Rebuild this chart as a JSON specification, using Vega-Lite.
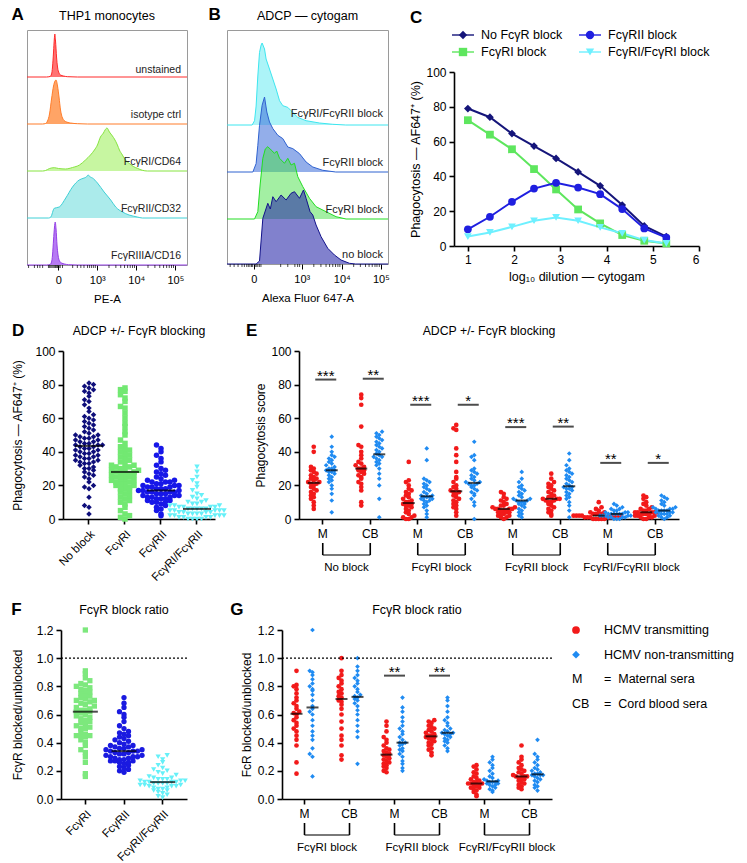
{
"$schema":"https://vega.github.io/schema/vega-lite/v6.json",
"padding":{"left":10,"top":6,"right":4,"bottom":4},
"datasets":{
"hA":[
{"s":"u","t":-0.8,"h":0},{"s":"u","t":-0.3,"h":0},{"s":"u","t":-0.21,"h":0.5},{"s":"u","t":-0.17,"h":3},{"s":"u","t":-0.146,"h":10},{"s":"u","t":-0.12,"h":25},{"s":"u","t":-0.1,"h":38},{"s":"u","t":-0.087,"h":43},{"s":"u","t":-0.069,"h":36},{"s":"u","t":-0.043,"h":20},{"s":"u","t":-0.018,"h":10},{"s":"u","t":0.02,"h":4},{"s":"u","t":0.059,"h":2},{"s":"u","t":0.136,"h":1},{"s":"u","t":0.238,"h":0.3},{"s":"u","t":0.494,"h":0},{"s":"u","t":3.3,"h":0},
{"s":"i","t":-0.8,"h":0},{"s":"i","t":-0.4,"h":0},{"s":"i","t":-0.325,"h":0.5},{"s":"i","t":-0.274,"h":3},{"s":"i","t":-0.223,"h":10},{"s":"i","t":-0.171,"h":25},{"s":"i","t":-0.12,"h":38},{"s":"i","t":-0.082,"h":43},{"s":"i","t":-0.056,"h":44},{"s":"i","t":-0.018,"h":38},{"s":"i","t":0.02,"h":27},{"s":"i","t":0.059,"h":14},{"s":"i","t":0.11,"h":6},{"s":"i","t":0.187,"h":2.5},{"s":"i","t":0.315,"h":1},{"s":"i","t":0.494,"h":0.3},{"s":"i","t":0.749,"h":0},{"s":"i","t":3.3,"h":0},
{"s":"c64","t":-0.8,"h":0},{"s":"c64","t":-0.4,"h":0},{"s":"c64","t":-0.325,"h":0.5},{"s":"c64","t":-0.223,"h":2.5},{"s":"c64","t":-0.102,"h":3.3},{"s":"c64","t":0.008,"h":2.5},{"s":"c64","t":0.187,"h":2},{"s":"c64","t":0.366,"h":3.5},{"s":"c64","t":0.545,"h":6},{"s":"c64","t":0.698,"h":11},{"s":"c64","t":0.826,"h":16},{"s":"c64","t":0.928,"h":21},{"s":"c64","t":1.005,"h":26},{"s":"c64","t":1.082,"h":34},{"s":"c64","t":1.159,"h":38},{"s":"c64","t":1.2,"h":41},{"s":"c64","t":1.25,"h":43},{"s":"c64","t":1.312,"h":39},{"s":"c64","t":1.389,"h":35},{"s":"c64","t":1.44,"h":32},{"s":"c64","t":1.517,"h":26},{"s":"c64","t":1.568,"h":21},{"s":"c64","t":1.645,"h":16},{"s":"c64","t":1.721,"h":11},{"s":"c64","t":1.824,"h":7.5},{"s":"c64","t":1.926,"h":4.5},{"s":"c64","t":2.028,"h":2.7},{"s":"c64","t":2.156,"h":0.7},{"s":"c64","t":2.284,"h":0},{"s":"c64","t":3.3,"h":0},
{"s":"c32","t":-0.8,"h":0},{"s":"c32","t":-0.248,"h":0},{"s":"c32","t":-0.19,"h":1},{"s":"c32","t":-0.102,"h":9.7},{"s":"c32","t":0.026,"h":11},{"s":"c32","t":0.194,"h":20},{"s":"c32","t":0.366,"h":31},{"s":"c32","t":0.537,"h":38},{"s":"c32","t":0.665,"h":40},{"s":"c32","t":0.72,"h":41},{"s":"c32","t":0.767,"h":43},{"s":"c32","t":0.82,"h":41},{"s":"c32","t":0.877,"h":40},{"s":"c32","t":1.005,"h":35},{"s":"c32","t":1.176,"h":26},{"s":"c32","t":1.345,"h":18},{"s":"c32","t":1.473,"h":11},{"s":"c32","t":1.645,"h":6},{"s":"c32","t":1.816,"h":3},{"s":"c32","t":2.028,"h":1},{"s":"c32","t":2.156,"h":0},{"s":"c32","t":3.3,"h":0},
{"s":"c16","t":-0.8,"h":0},{"s":"c16","t":-0.3,"h":0},{"s":"c16","t":-0.21,"h":0.5},{"s":"c16","t":-0.171,"h":3},{"s":"c16","t":-0.146,"h":10},{"s":"c16","t":-0.12,"h":25},{"s":"c16","t":-0.095,"h":38},{"s":"c16","t":-0.077,"h":43},{"s":"c16","t":-0.056,"h":36},{"s":"c16","t":-0.031,"h":20},{"s":"c16","t":-0.005,"h":10},{"s":"c16","t":0.033,"h":4},{"s":"c16","t":0.084,"h":2},{"s":"c16","t":0.161,"h":1},{"s":"c16","t":0.263,"h":0.3},{"s":"c16","t":0.494,"h":0},{"s":"c16","t":3.3,"h":0}
],
"hB":[
{"s":"r12","t":-0.68,"h":0},{"s":"r12","t":-0.043,"h":0},{"s":"r12","t":0.018,"h":4.3},{"s":"r12","t":0.058,"h":19},{"s":"r12","t":0.101,"h":49},{"s":"r12","t":0.144,"h":72.6},{"s":"r12","t":0.185,"h":80},{"s":"r12","t":0.21,"h":82},{"s":"r12","t":0.271,"h":76},{"s":"r12","t":0.311,"h":66},{"s":"r12","t":0.397,"h":56},{"s":"r12","t":0.481,"h":46},{"s":"r12","t":0.565,"h":36},{"s":"r12","t":0.651,"h":24.3},{"s":"r12","t":0.734,"h":19.3},{"s":"r12","t":0.861,"h":17.6},{"s":"r12","t":0.987,"h":12.6},{"s":"r12","t":1.114,"h":7.6},{"s":"r12","t":1.324,"h":4.3},{"s":"r12","t":1.663,"h":2},{"s":"r12","t":2.0,"h":0.7},{"s":"r12","t":2.329,"h":0},{"s":"r12","t":3.4,"h":0},
{"s":"r2","t":-0.68,"h":0},{"s":"r2","t":-0.025,"h":0},{"s":"r2","t":0.058,"h":8.4},{"s":"r2","t":0.101,"h":26.7},{"s":"r2","t":0.144,"h":46.7},{"s":"r2","t":0.21,"h":66.7},{"s":"r2","t":0.271,"h":75},{"s":"r2","t":0.329,"h":60},{"s":"r2","t":0.397,"h":50},{"s":"r2","t":0.481,"h":43.4},{"s":"r2","t":0.608,"h":36.7},{"s":"r2","t":0.734,"h":33.4},{"s":"r2","t":0.861,"h":25},{"s":"r2","t":0.987,"h":23.4},{"s":"r2","t":1.157,"h":18.4},{"s":"r2","t":1.324,"h":10},{"s":"r2","t":1.494,"h":5},{"s":"r2","t":1.747,"h":1.7},{"s":"r2","t":2.076,"h":0},{"s":"r2","t":3.4,"h":0},
{"s":"r1","t":-0.68,"h":0},{"s":"r1","t":0.018,"h":0},{"s":"r1","t":0.101,"h":7.3},{"s":"r1","t":0.159,"h":34},{"s":"r1","t":0.228,"h":60.7},{"s":"r1","t":0.29,"h":70},{"s":"r1","t":0.354,"h":72.3},{"s":"r1","t":0.438,"h":69},{"s":"r1","t":0.524,"h":65.7},{"s":"r1","t":0.58,"h":68},{"s":"r1","t":0.651,"h":60.7},{"s":"r1","t":0.777,"h":55.7},{"s":"r1","t":0.861,"h":60.7},{"s":"r1","t":0.944,"h":54},{"s":"r1","t":1.03,"h":55.7},{"s":"r1","t":1.114,"h":42.3},{"s":"r1","t":1.241,"h":32.3},{"s":"r1","t":1.41,"h":20.7},{"s":"r1","t":1.577,"h":12.3},{"s":"r1","t":1.83,"h":7.3},{"s":"r1","t":2.084,"h":2.3},{"s":"r1","t":2.337,"h":0},{"s":"r1","t":3.4,"h":0},
{"s":"n","t":-0.68,"h":0},{"s":"n","t":0.058,"h":0},{"s":"n","t":0.144,"h":3},{"s":"n","t":0.228,"h":45.7},{"s":"n","t":0.354,"h":60.7},{"s":"n","t":0.418,"h":55},{"s":"n","t":0.481,"h":67.3},{"s":"n","t":0.565,"h":62.3},{"s":"n","t":0.691,"h":69},{"s":"n","t":0.818,"h":64},{"s":"n","t":0.944,"h":70.7},{"s":"n","t":1.03,"h":72.3},{"s":"n","t":1.157,"h":65.7},{"s":"n","t":1.258,"h":74},{"s":"n","t":1.324,"h":65.7},{"s":"n","t":1.425,"h":52.3},{"s":"n","t":1.494,"h":49},{"s":"n","t":1.577,"h":39},{"s":"n","t":1.704,"h":27.3},{"s":"n","t":1.873,"h":15.7},{"s":"n","t":2.043,"h":9},{"s":"n","t":2.21,"h":4},{"s":"n","t":2.423,"h":0.7},{"s":"n","t":2.582,"h":0},{"s":"n","t":3.4,"h":0}
],
"tA":[{"t":-0.76},{"t":-0.61},{"t":-0.53},{"t":-0.47},{"t":-0.4},{"t":-0.25},{"t":-0.22},{"t":-0.19},{"t":-0.16},{"t":-0.13},{"t":-0.1},{"t":-0.07},{"t":-0.04},{"t":-0.02},{"t":0.02},{"t":0.05},{"t":0.11},{"t":0.37},{"t":0.49},{"t":0.58},{"t":0.66},{"t":0.75},{"t":0.8},{"t":0.85},{"t":0.9},{"t":0.95},{"t":1.301},{"t":1.477},{"t":1.602},{"t":1.699},{"t":1.778},{"t":1.845},{"t":1.903},{"t":1.954},{"t":2.301},{"t":2.477},{"t":2.602},{"t":2.699},{"t":2.778},{"t":2.845},{"t":2.903},{"t":2.954}],
"tB":[{"t":-0.6},{"t":-0.5},{"t":-0.4},{"t":-0.3},{"t":-0.24},{"t":-0.18},{"t":-0.14},{"t":-0.1},{"t":-0.06},{"t":-0.03},{"t":0.03},{"t":0.06},{"t":0.1},{"t":0.14},{"t":0.18},{"t":0.68},{"t":0.86},{"t":1.04},{"t":1.11},{"t":1.16},{"t":1.52},{"t":1.7},{"t":1.83},{"t":1.92},{"t":2.0},{"t":2.07},{"t":2.13},{"t":2.18},{"t":2.53},{"t":2.7},{"t":2.83},{"t":2.92},{"t":3.0},{"t":3.07},{"t":3.12},{"t":3.18}],
"C":[
{"s":"No FcγR block","x":1,"y":79},{"s":"No FcγR block","x":1.477,"y":74},{"s":"No FcγR block","x":1.954,"y":64.6},{"s":"No FcγR block","x":2.431,"y":57.4},{"s":"No FcγR block","x":2.908,"y":50.3},{"s":"No FcγR block","x":3.385,"y":42.6},{"s":"No FcγR block","x":3.862,"y":34.6},{"s":"No FcγR block","x":4.339,"y":23.5},{"s":"No FcγR block","x":4.816,"y":11.5},{"s":"No FcγR block","x":5.293,"y":5.4},
{"s":"FcγRI block","x":1,"y":72.3},{"s":"FcγRI block","x":1.477,"y":64},{"s":"FcγRI block","x":1.954,"y":55.6},{"s":"FcγRI block","x":2.431,"y":44.2},{"s":"FcγRI block","x":2.908,"y":32.5},{"s":"FcγRI block","x":3.385,"y":21},{"s":"FcγRI block","x":3.862,"y":13},{"s":"FcγRI block","x":4.339,"y":6.3},{"s":"FcγRI block","x":4.816,"y":3},{"s":"FcγRI block","x":5.293,"y":1.5},
{"s":"FcγRII block","x":1,"y":9.6},{"s":"FcγRII block","x":1.477,"y":16.8},{"s":"FcγRII block","x":1.954,"y":25.4},{"s":"FcγRII block","x":2.431,"y":33},{"s":"FcγRII block","x":2.908,"y":36.3},{"s":"FcγRII block","x":3.385,"y":33.6},{"s":"FcγRII block","x":3.862,"y":29.8},{"s":"FcγRII block","x":4.339,"y":21.2},{"s":"FcγRII block","x":4.816,"y":10.1},{"s":"FcγRII block","x":5.293,"y":4.8},
{"s":"FcγRI/FcγRI block","x":1,"y":5.4},{"s":"FcγRI/FcγRI block","x":1.477,"y":7.8},{"s":"FcγRI/FcγRI block","x":1.954,"y":11},{"s":"FcγRI/FcγRI block","x":2.431,"y":14.5},{"s":"FcγRI/FcγRI block","x":2.908,"y":16.4},{"s":"FcγRI/FcγRI block","x":3.385,"y":14.5},{"s":"FcγRI/FcγRI block","x":3.862,"y":10.7},{"s":"FcγRI/FcγRI block","x":4.339,"y":7.3},{"s":"FcγRI/FcγRI block","x":4.816,"y":3.4},{"s":"FcγRI/FcγRI block","x":5.293,"y":1.5}
],
"Cleg":[{"s":"No FcγR block","c":"a","r":"r1"},{"s":"FcγRII block","c":"b","r":"r1"},{"s":"FcγRI block","c":"a","r":"r2"},{"s":"FcγRI/FcγRI block","c":"b","r":"r2"}],
"D":[
{"g":"a","v":3},{"g":"a","v":7},{"g":"a","v":8},{"g":"a","v":13},{"g":"a","v":18},{"g":"a","v":19},{"g":"a","v":20},{"g":"a","v":22},{"g":"a","v":24},{"g":"a","v":25},{"g":"a","v":26},{"g":"a","v":27},{"g":"a","v":28},{"g":"a","v":29},{"g":"a","v":30},{"g":"a","v":30},{"g":"a","v":31},{"g":"a","v":32},{"g":"a","v":33},{"g":"a","v":33},{"g":"a","v":34},{"g":"a","v":34},{"g":"a","v":35},{"g":"a","v":35},{"g":"a","v":36},{"g":"a","v":36},{"g":"a","v":37},{"g":"a","v":37},{"g":"a","v":38},{"g":"a","v":38},{"g":"a","v":39},{"g":"a","v":39},{"g":"a","v":40},{"g":"a","v":40},{"g":"a","v":41},{"g":"a","v":41},{"g":"a","v":42},{"g":"a","v":42},{"g":"a","v":43},{"g":"a","v":43},{"g":"a","v":44},{"g":"a","v":44},{"g":"a","v":44},{"g":"a","v":45},{"g":"a","v":45},{"g":"a","v":46},{"g":"a","v":46},{"g":"a","v":47},{"g":"a","v":47},{"g":"a","v":48},{"g":"a","v":48},{"g":"a","v":49},{"g":"a","v":49},{"g":"a","v":50},{"g":"a","v":50},{"g":"a","v":51},{"g":"a","v":52},{"g":"a","v":53},{"g":"a","v":54},{"g":"a","v":55},{"g":"a","v":56},{"g":"a","v":57},{"g":"a","v":58},{"g":"a","v":59},{"g":"a","v":60},{"g":"a","v":61},{"g":"a","v":62},{"g":"a","v":64},{"g":"a","v":66},{"g":"a","v":68},{"g":"a","v":70},{"g":"a","v":71},{"g":"a","v":73},{"g":"a","v":75},{"g":"a","v":76},{"g":"a","v":77},{"g":"a","v":78},{"g":"a","v":79},{"g":"a","v":80},{"g":"a","v":81},
{"g":"b","v":0},{"g":"b","v":1},{"g":"b","v":2},{"g":"b","v":3},{"g":"b","v":5},{"g":"b","v":7},{"g":"b","v":9},{"g":"b","v":10},{"g":"b","v":11},{"g":"b","v":12},{"g":"b","v":13},{"g":"b","v":14},{"g":"b","v":15},{"g":"b","v":16},{"g":"b","v":17},{"g":"b","v":18},{"g":"b","v":18},{"g":"b","v":19},{"g":"b","v":20},{"g":"b","v":20},{"g":"b","v":21},{"g":"b","v":21},{"g":"b","v":22},{"g":"b","v":22},{"g":"b","v":23},{"g":"b","v":23},{"g":"b","v":24},{"g":"b","v":24},{"g":"b","v":25},{"g":"b","v":25},{"g":"b","v":26},{"g":"b","v":26},{"g":"b","v":27},{"g":"b","v":27},{"g":"b","v":27},{"g":"b","v":28},{"g":"b","v":28},{"g":"b","v":29},{"g":"b","v":29},{"g":"b","v":30},{"g":"b","v":30},{"g":"b","v":31},{"g":"b","v":31},{"g":"b","v":32},{"g":"b","v":32},{"g":"b","v":33},{"g":"b","v":34},{"g":"b","v":35},{"g":"b","v":36},{"g":"b","v":37},{"g":"b","v":38},{"g":"b","v":39},{"g":"b","v":40},{"g":"b","v":41},{"g":"b","v":42},{"g":"b","v":43},{"g":"b","v":45},{"g":"b","v":47},{"g":"b","v":50},{"g":"b","v":52},{"g":"b","v":55},{"g":"b","v":57},{"g":"b","v":60},{"g":"b","v":63},{"g":"b","v":66},{"g":"b","v":67},{"g":"b","v":70},{"g":"b","v":72},{"g":"b","v":74},{"g":"b","v":76},{"g":"b","v":77},{"g":"b","v":78},
{"g":"c","v":2},{"g":"c","v":3},{"g":"c","v":5},{"g":"c","v":6},{"g":"c","v":7},{"g":"c","v":8},{"g":"c","v":9},{"g":"c","v":10},{"g":"c","v":10},{"g":"c","v":10},{"g":"c","v":11},{"g":"c","v":11},{"g":"c","v":12},{"g":"c","v":12},{"g":"c","v":12},{"g":"c","v":13},{"g":"c","v":13},{"g":"c","v":13},{"g":"c","v":14},{"g":"c","v":14},{"g":"c","v":14},{"g":"c","v":15},{"g":"c","v":15},{"g":"c","v":15},{"g":"c","v":16},{"g":"c","v":16},{"g":"c","v":16},{"g":"c","v":16},{"g":"c","v":17},{"g":"c","v":17},{"g":"c","v":17},{"g":"c","v":18},{"g":"c","v":18},{"g":"c","v":18},{"g":"c","v":19},{"g":"c","v":19},{"g":"c","v":19},{"g":"c","v":20},{"g":"c","v":20},{"g":"c","v":20},{"g":"c","v":21},{"g":"c","v":21},{"g":"c","v":22},{"g":"c","v":22},{"g":"c","v":22},{"g":"c","v":23},{"g":"c","v":23},{"g":"c","v":24},{"g":"c","v":25},{"g":"c","v":26},{"g":"c","v":27},{"g":"c","v":28},{"g":"c","v":29},{"g":"c","v":30},{"g":"c","v":32},{"g":"c","v":34},{"g":"c","v":36},{"g":"c","v":38},{"g":"c","v":40},{"g":"c","v":42},{"g":"c","v":44},
{"g":"d","v":0},{"g":"d","v":0},{"g":"d","v":0},{"g":"d","v":0},{"g":"d","v":1},{"g":"d","v":1},{"g":"d","v":1},{"g":"d","v":1},{"g":"d","v":2},{"g":"d","v":2},{"g":"d","v":2},{"g":"d","v":2},{"g":"d","v":2},{"g":"d","v":3},{"g":"d","v":3},{"g":"d","v":3},{"g":"d","v":3},{"g":"d","v":4},{"g":"d","v":4},{"g":"d","v":4},{"g":"d","v":4},{"g":"d","v":5},{"g":"d","v":5},{"g":"d","v":5},{"g":"d","v":5},{"g":"d","v":5},{"g":"d","v":6},{"g":"d","v":6},{"g":"d","v":6},{"g":"d","v":6},{"g":"d","v":6},{"g":"d","v":7},{"g":"d","v":7},{"g":"d","v":7},{"g":"d","v":7},{"g":"d","v":8},{"g":"d","v":8},{"g":"d","v":8},{"g":"d","v":9},{"g":"d","v":9},{"g":"d","v":10},{"g":"d","v":10},{"g":"d","v":11},{"g":"d","v":12},{"g":"d","v":13},{"g":"d","v":14},{"g":"d","v":15},{"g":"d","v":17},{"g":"d","v":19},{"g":"d","v":21},{"g":"d","v":23},{"g":"d","v":25},{"g":"d","v":28},{"g":"d","v":31}
],
"E":[
{"k":"1M","c":"T","v":6},{"k":"1M","c":"T","v":8},{"k":"1M","c":"T","v":10},{"k":"1M","c":"T","v":12},{"k":"1M","c":"T","v":13},{"k":"1M","c":"T","v":14},{"k":"1M","c":"T","v":15},{"k":"1M","c":"T","v":16},{"k":"1M","c":"T","v":17},{"k":"1M","c":"T","v":18},{"k":"1M","c":"T","v":19},{"k":"1M","c":"T","v":20},{"k":"1M","c":"T","v":21},{"k":"1M","c":"T","v":21},{"k":"1M","c":"T","v":22},{"k":"1M","c":"T","v":22},{"k":"1M","c":"T","v":23},{"k":"1M","c":"T","v":24},{"k":"1M","c":"T","v":24},{"k":"1M","c":"T","v":25},{"k":"1M","c":"T","v":26},{"k":"1M","c":"T","v":27},{"k":"1M","c":"T","v":28},{"k":"1M","c":"T","v":29},{"k":"1M","c":"T","v":30},{"k":"1M","c":"T","v":31},{"k":"1M","c":"T","v":40},{"k":"1M","c":"T","v":43},
{"k":"1M","c":"N","v":4},{"k":"1M","c":"N","v":11},{"k":"1M","c":"N","v":15},{"k":"1M","c":"N","v":18},{"k":"1M","c":"N","v":20},{"k":"1M","c":"N","v":22},{"k":"1M","c":"N","v":23},{"k":"1M","c":"N","v":24},{"k":"1M","c":"N","v":25},{"k":"1M","c":"N","v":26},{"k":"1M","c":"N","v":27},{"k":"1M","c":"N","v":28},{"k":"1M","c":"N","v":28},{"k":"1M","c":"N","v":29},{"k":"1M","c":"N","v":29},{"k":"1M","c":"N","v":30},{"k":"1M","c":"N","v":30},{"k":"1M","c":"N","v":31},{"k":"1M","c":"N","v":32},{"k":"1M","c":"N","v":33},{"k":"1M","c":"N","v":34},{"k":"1M","c":"N","v":35},{"k":"1M","c":"N","v":36},{"k":"1M","c":"N","v":37},{"k":"1M","c":"N","v":38},{"k":"1M","c":"N","v":40},{"k":"1M","c":"N","v":43},{"k":"1M","c":"N","v":49},
{"k":"1CB","c":"T","v":8},{"k":"1CB","c":"T","v":10},{"k":"1CB","c":"T","v":17},{"k":"1CB","c":"T","v":19},{"k":"1CB","c":"T","v":21},{"k":"1CB","c":"T","v":22},{"k":"1CB","c":"T","v":24},{"k":"1CB","c":"T","v":25},{"k":"1CB","c":"T","v":26},{"k":"1CB","c":"T","v":27},{"k":"1CB","c":"T","v":28},{"k":"1CB","c":"T","v":29},{"k":"1CB","c":"T","v":29},{"k":"1CB","c":"T","v":30},{"k":"1CB","c":"T","v":30},{"k":"1CB","c":"T","v":31},{"k":"1CB","c":"T","v":32},{"k":"1CB","c":"T","v":33},{"k":"1CB","c":"T","v":34},{"k":"1CB","c":"T","v":36},{"k":"1CB","c":"T","v":38},{"k":"1CB","c":"T","v":40},{"k":"1CB","c":"T","v":43},{"k":"1CB","c":"T","v":44},{"k":"1CB","c":"T","v":55},{"k":"1CB","c":"T","v":68},{"k":"1CB","c":"T","v":72},{"k":"1CB","c":"T","v":74},
{"k":"1CB","c":"N","v":1},{"k":"1CB","c":"N","v":12},{"k":"1CB","c":"N","v":20},{"k":"1CB","c":"N","v":24},{"k":"1CB","c":"N","v":27},{"k":"1CB","c":"N","v":30},{"k":"1CB","c":"N","v":32},{"k":"1CB","c":"N","v":33},{"k":"1CB","c":"N","v":34},{"k":"1CB","c":"N","v":35},{"k":"1CB","c":"N","v":36},{"k":"1CB","c":"N","v":37},{"k":"1CB","c":"N","v":37},{"k":"1CB","c":"N","v":38},{"k":"1CB","c":"N","v":39},{"k":"1CB","c":"N","v":40},{"k":"1CB","c":"N","v":41},{"k":"1CB","c":"N","v":42},{"k":"1CB","c":"N","v":43},{"k":"1CB","c":"N","v":44},{"k":"1CB","c":"N","v":45},{"k":"1CB","c":"N","v":46},{"k":"1CB","c":"N","v":47},{"k":"1CB","c":"N","v":48},{"k":"1CB","c":"N","v":49},{"k":"1CB","c":"N","v":50},{"k":"1CB","c":"N","v":51},{"k":"1CB","c":"N","v":52},
{"k":"2M","c":"T","v":0},{"k":"2M","c":"T","v":0},{"k":"2M","c":"T","v":1},{"k":"2M","c":"T","v":1},{"k":"2M","c":"T","v":2},{"k":"2M","c":"T","v":3},{"k":"2M","c":"T","v":4},{"k":"2M","c":"T","v":5},{"k":"2M","c":"T","v":6},{"k":"2M","c":"T","v":7},{"k":"2M","c":"T","v":8},{"k":"2M","c":"T","v":8},{"k":"2M","c":"T","v":9},{"k":"2M","c":"T","v":9},{"k":"2M","c":"T","v":10},{"k":"2M","c":"T","v":10},{"k":"2M","c":"T","v":11},{"k":"2M","c":"T","v":12},{"k":"2M","c":"T","v":13},{"k":"2M","c":"T","v":14},{"k":"2M","c":"T","v":15},{"k":"2M","c":"T","v":16},{"k":"2M","c":"T","v":17},{"k":"2M","c":"T","v":18},{"k":"2M","c":"T","v":20},{"k":"2M","c":"T","v":22},{"k":"2M","c":"T","v":23},{"k":"2M","c":"T","v":34},
{"k":"2M","c":"N","v":1},{"k":"2M","c":"N","v":3},{"k":"2M","c":"N","v":5},{"k":"2M","c":"N","v":7},{"k":"2M","c":"N","v":8},{"k":"2M","c":"N","v":9},{"k":"2M","c":"N","v":10},{"k":"2M","c":"N","v":11},{"k":"2M","c":"N","v":11},{"k":"2M","c":"N","v":12},{"k":"2M","c":"N","v":12},{"k":"2M","c":"N","v":13},{"k":"2M","c":"N","v":13},{"k":"2M","c":"N","v":13},{"k":"2M","c":"N","v":14},{"k":"2M","c":"N","v":14},{"k":"2M","c":"N","v":15},{"k":"2M","c":"N","v":16},{"k":"2M","c":"N","v":17},{"k":"2M","c":"N","v":18},{"k":"2M","c":"N","v":19},{"k":"2M","c":"N","v":20},{"k":"2M","c":"N","v":21},{"k":"2M","c":"N","v":22},{"k":"2M","c":"N","v":23},{"k":"2M","c":"N","v":24},{"k":"2M","c":"N","v":35},{"k":"2M","c":"N","v":42},
{"k":"2CB","c":"T","v":2},{"k":"2CB","c":"T","v":4},{"k":"2CB","c":"T","v":6},{"k":"2CB","c":"T","v":7},{"k":"2CB","c":"T","v":8},{"k":"2CB","c":"T","v":9},{"k":"2CB","c":"T","v":10},{"k":"2CB","c":"T","v":11},{"k":"2CB","c":"T","v":12},{"k":"2CB","c":"T","v":13},{"k":"2CB","c":"T","v":14},{"k":"2CB","c":"T","v":15},{"k":"2CB","c":"T","v":16},{"k":"2CB","c":"T","v":16},{"k":"2CB","c":"T","v":17},{"k":"2CB","c":"T","v":18},{"k":"2CB","c":"T","v":19},{"k":"2CB","c":"T","v":20},{"k":"2CB","c":"T","v":22},{"k":"2CB","c":"T","v":24},{"k":"2CB","c":"T","v":25},{"k":"2CB","c":"T","v":28},{"k":"2CB","c":"T","v":34},{"k":"2CB","c":"T","v":38},{"k":"2CB","c":"T","v":42},{"k":"2CB","c":"T","v":53},{"k":"2CB","c":"T","v":54},{"k":"2CB","c":"T","v":56},
{"k":"2CB","c":"N","v":0},{"k":"2CB","c":"N","v":8},{"k":"2CB","c":"N","v":10},{"k":"2CB","c":"N","v":12},{"k":"2CB","c":"N","v":14},{"k":"2CB","c":"N","v":15},{"k":"2CB","c":"N","v":16},{"k":"2CB","c":"N","v":17},{"k":"2CB","c":"N","v":18},{"k":"2CB","c":"N","v":19},{"k":"2CB","c":"N","v":20},{"k":"2CB","c":"N","v":20},{"k":"2CB","c":"N","v":21},{"k":"2CB","c":"N","v":21},{"k":"2CB","c":"N","v":22},{"k":"2CB","c":"N","v":22},{"k":"2CB","c":"N","v":23},{"k":"2CB","c":"N","v":24},{"k":"2CB","c":"N","v":25},{"k":"2CB","c":"N","v":26},{"k":"2CB","c":"N","v":27},{"k":"2CB","c":"N","v":28},{"k":"2CB","c":"N","v":29},{"k":"2CB","c":"N","v":30},{"k":"2CB","c":"N","v":35},{"k":"2CB","c":"N","v":37},{"k":"2CB","c":"N","v":38},{"k":"2CB","c":"N","v":46},
{"k":"3M","c":"T","v":0},{"k":"3M","c":"T","v":1},{"k":"3M","c":"T","v":1},{"k":"3M","c":"T","v":2},{"k":"3M","c":"T","v":2},{"k":"3M","c":"T","v":3},{"k":"3M","c":"T","v":3},{"k":"3M","c":"T","v":4},{"k":"3M","c":"T","v":4},{"k":"3M","c":"T","v":4},{"k":"3M","c":"T","v":5},{"k":"3M","c":"T","v":5},{"k":"3M","c":"T","v":5},{"k":"3M","c":"T","v":6},{"k":"3M","c":"T","v":6},{"k":"3M","c":"T","v":6},{"k":"3M","c":"T","v":6},{"k":"3M","c":"T","v":7},{"k":"3M","c":"T","v":7},{"k":"3M","c":"T","v":8},{"k":"3M","c":"T","v":8},{"k":"3M","c":"T","v":9},{"k":"3M","c":"T","v":10},{"k":"3M","c":"T","v":11},{"k":"3M","c":"T","v":12},{"k":"3M","c":"T","v":13},{"k":"3M","c":"T","v":15},{"k":"3M","c":"T","v":16},
{"k":"3M","c":"N","v":1},{"k":"3M","c":"N","v":2},{"k":"3M","c":"N","v":3},{"k":"3M","c":"N","v":4},{"k":"3M","c":"N","v":5},{"k":"3M","c":"N","v":6},{"k":"3M","c":"N","v":7},{"k":"3M","c":"N","v":8},{"k":"3M","c":"N","v":9},{"k":"3M","c":"N","v":9},{"k":"3M","c":"N","v":10},{"k":"3M","c":"N","v":10},{"k":"3M","c":"N","v":10},{"k":"3M","c":"N","v":11},{"k":"3M","c":"N","v":11},{"k":"3M","c":"N","v":12},{"k":"3M","c":"N","v":12},{"k":"3M","c":"N","v":13},{"k":"3M","c":"N","v":14},{"k":"3M","c":"N","v":15},{"k":"3M","c":"N","v":16},{"k":"3M","c":"N","v":17},{"k":"3M","c":"N","v":18},{"k":"3M","c":"N","v":19},{"k":"3M","c":"N","v":20},{"k":"3M","c":"N","v":22},{"k":"3M","c":"N","v":24},{"k":"3M","c":"N","v":28},
{"k":"3CB","c":"T","v":2},{"k":"3CB","c":"T","v":3},{"k":"3CB","c":"T","v":4},{"k":"3CB","c":"T","v":5},{"k":"3CB","c":"T","v":6},{"k":"3CB","c":"T","v":7},{"k":"3CB","c":"T","v":8},{"k":"3CB","c":"T","v":9},{"k":"3CB","c":"T","v":10},{"k":"3CB","c":"T","v":10},{"k":"3CB","c":"T","v":11},{"k":"3CB","c":"T","v":11},{"k":"3CB","c":"T","v":12},{"k":"3CB","c":"T","v":12},{"k":"3CB","c":"T","v":12},{"k":"3CB","c":"T","v":13},{"k":"3CB","c":"T","v":13},{"k":"3CB","c":"T","v":14},{"k":"3CB","c":"T","v":15},{"k":"3CB","c":"T","v":16},{"k":"3CB","c":"T","v":17},{"k":"3CB","c":"T","v":18},{"k":"3CB","c":"T","v":19},{"k":"3CB","c":"T","v":20},{"k":"3CB","c":"T","v":21},{"k":"3CB","c":"T","v":22},{"k":"3CB","c":"T","v":24},{"k":"3CB","c":"T","v":27},
{"k":"3CB","c":"N","v":1},{"k":"3CB","c":"N","v":5},{"k":"3CB","c":"N","v":8},{"k":"3CB","c":"N","v":10},{"k":"3CB","c":"N","v":12},{"k":"3CB","c":"N","v":13},{"k":"3CB","c":"N","v":14},{"k":"3CB","c":"N","v":15},{"k":"3CB","c":"N","v":16},{"k":"3CB","c":"N","v":17},{"k":"3CB","c":"N","v":18},{"k":"3CB","c":"N","v":18},{"k":"3CB","c":"N","v":19},{"k":"3CB","c":"N","v":19},{"k":"3CB","c":"N","v":20},{"k":"3CB","c":"N","v":21},{"k":"3CB","c":"N","v":22},{"k":"3CB","c":"N","v":23},{"k":"3CB","c":"N","v":24},{"k":"3CB","c":"N","v":25},{"k":"3CB","c":"N","v":26},{"k":"3CB","c":"N","v":27},{"k":"3CB","c":"N","v":28},{"k":"3CB","c":"N","v":29},{"k":"3CB","c":"N","v":30},{"k":"3CB","c":"N","v":32},{"k":"3CB","c":"N","v":35},{"k":"3CB","c":"N","v":39},
{"k":"4M","c":"T","v":0},{"k":"4M","c":"T","v":0},{"k":"4M","c":"T","v":0},{"k":"4M","c":"T","v":0},{"k":"4M","c":"T","v":0},{"k":"4M","c":"T","v":1},{"k":"4M","c":"T","v":1},{"k":"4M","c":"T","v":1},{"k":"4M","c":"T","v":1},{"k":"4M","c":"T","v":1},{"k":"4M","c":"T","v":1},{"k":"4M","c":"T","v":2},{"k":"4M","c":"T","v":2},{"k":"4M","c":"T","v":2},{"k":"4M","c":"T","v":2},{"k":"4M","c":"T","v":2},{"k":"4M","c":"T","v":2},{"k":"4M","c":"T","v":2},{"k":"4M","c":"T","v":3},{"k":"4M","c":"T","v":3},{"k":"4M","c":"T","v":3},{"k":"4M","c":"T","v":3},{"k":"4M","c":"T","v":4},{"k":"4M","c":"T","v":4},{"k":"4M","c":"T","v":5},{"k":"4M","c":"T","v":6},{"k":"4M","c":"T","v":7},{"k":"4M","c":"T","v":10},
{"k":"4M","c":"N","v":0},{"k":"4M","c":"N","v":0},{"k":"4M","c":"N","v":0},{"k":"4M","c":"N","v":1},{"k":"4M","c":"N","v":1},{"k":"4M","c":"N","v":1},{"k":"4M","c":"N","v":1},{"k":"4M","c":"N","v":2},{"k":"4M","c":"N","v":2},{"k":"4M","c":"N","v":2},{"k":"4M","c":"N","v":2},{"k":"4M","c":"N","v":2},{"k":"4M","c":"N","v":3},{"k":"4M","c":"N","v":3},{"k":"4M","c":"N","v":3},{"k":"4M","c":"N","v":3},{"k":"4M","c":"N","v":3},{"k":"4M","c":"N","v":3},{"k":"4M","c":"N","v":4},{"k":"4M","c":"N","v":4},{"k":"4M","c":"N","v":4},{"k":"4M","c":"N","v":5},{"k":"4M","c":"N","v":5},{"k":"4M","c":"N","v":6},{"k":"4M","c":"N","v":6},{"k":"4M","c":"N","v":7},{"k":"4M","c":"N","v":8},{"k":"4M","c":"N","v":9},
{"k":"4CB","c":"T","v":0},{"k":"4CB","c":"T","v":0},{"k":"4CB","c":"T","v":1},{"k":"4CB","c":"T","v":1},{"k":"4CB","c":"T","v":1},{"k":"4CB","c":"T","v":2},{"k":"4CB","c":"T","v":2},{"k":"4CB","c":"T","v":2},{"k":"4CB","c":"T","v":3},{"k":"4CB","c":"T","v":3},{"k":"4CB","c":"T","v":3},{"k":"4CB","c":"T","v":3},{"k":"4CB","c":"T","v":4},{"k":"4CB","c":"T","v":4},{"k":"4CB","c":"T","v":4},{"k":"4CB","c":"T","v":4},{"k":"4CB","c":"T","v":4},{"k":"4CB","c":"T","v":5},{"k":"4CB","c":"T","v":5},{"k":"4CB","c":"T","v":6},{"k":"4CB","c":"T","v":6},{"k":"4CB","c":"T","v":7},{"k":"4CB","c":"T","v":8},{"k":"4CB","c":"T","v":9},{"k":"4CB","c":"T","v":10},{"k":"4CB","c":"T","v":12},{"k":"4CB","c":"T","v":13},{"k":"4CB","c":"T","v":14},
{"k":"4CB","c":"N","v":0},{"k":"4CB","c":"N","v":1},{"k":"4CB","c":"N","v":1},{"k":"4CB","c":"N","v":2},{"k":"4CB","c":"N","v":2},{"k":"4CB","c":"N","v":3},{"k":"4CB","c":"N","v":3},{"k":"4CB","c":"N","v":3},{"k":"4CB","c":"N","v":4},{"k":"4CB","c":"N","v":4},{"k":"4CB","c":"N","v":4},{"k":"4CB","c":"N","v":4},{"k":"4CB","c":"N","v":5},{"k":"4CB","c":"N","v":5},{"k":"4CB","c":"N","v":5},{"k":"4CB","c":"N","v":5},{"k":"4CB","c":"N","v":6},{"k":"4CB","c":"N","v":6},{"k":"4CB","c":"N","v":6},{"k":"4CB","c":"N","v":7},{"k":"4CB","c":"N","v":7},{"k":"4CB","c":"N","v":8},{"k":"4CB","c":"N","v":9},{"k":"4CB","c":"N","v":10},{"k":"4CB","c":"N","v":11},{"k":"4CB","c":"N","v":12},{"k":"4CB","c":"N","v":13},{"k":"4CB","c":"N","v":14}
],
"F":[
{"g":"a","v":0.16},{"g":"a","v":0.18},{"g":"a","v":0.26},{"g":"a","v":0.3},{"g":"a","v":0.33},{"g":"a","v":0.35},{"g":"a","v":0.38},{"g":"a","v":0.4},{"g":"a","v":0.42},{"g":"a","v":0.44},{"g":"a","v":0.45},{"g":"a","v":0.45},{"g":"a","v":0.45},{"g":"a","v":0.46},{"g":"a","v":0.48},{"g":"a","v":0.5},{"g":"a","v":0.5},{"g":"a","v":0.51},{"g":"a","v":0.52},{"g":"a","v":0.53},{"g":"a","v":0.54},{"g":"a","v":0.55},{"g":"a","v":0.56},{"g":"a","v":0.57},{"g":"a","v":0.58},{"g":"a","v":0.59},{"g":"a","v":0.6},{"g":"a","v":0.61},{"g":"a","v":0.62},{"g":"a","v":0.62},{"g":"a","v":0.63},{"g":"a","v":0.63},{"g":"a","v":0.64},{"g":"a","v":0.65},{"g":"a","v":0.66},{"g":"a","v":0.67},{"g":"a","v":0.68},{"g":"a","v":0.69},{"g":"a","v":0.7},{"g":"a","v":0.7},{"g":"a","v":0.71},{"g":"a","v":0.72},{"g":"a","v":0.73},{"g":"a","v":0.74},{"g":"a","v":0.75},{"g":"a","v":0.76},{"g":"a","v":0.77},{"g":"a","v":0.78},{"g":"a","v":0.79},{"g":"a","v":0.8},{"g":"a","v":0.81},{"g":"a","v":0.82},{"g":"a","v":0.84},{"g":"a","v":0.86},{"g":"a","v":0.89},{"g":"a","v":0.91},{"g":"a","v":1.2},
{"g":"b","v":0.19},{"g":"b","v":0.2},{"g":"b","v":0.21},{"g":"b","v":0.22},{"g":"b","v":0.23},{"g":"b","v":0.24},{"g":"b","v":0.25},{"g":"b","v":0.26},{"g":"b","v":0.26},{"g":"b","v":0.27},{"g":"b","v":0.27},{"g":"b","v":0.27},{"g":"b","v":0.28},{"g":"b","v":0.28},{"g":"b","v":0.29},{"g":"b","v":0.29},{"g":"b","v":0.3},{"g":"b","v":0.3},{"g":"b","v":0.3},{"g":"b","v":0.31},{"g":"b","v":0.31},{"g":"b","v":0.32},{"g":"b","v":0.32},{"g":"b","v":0.33},{"g":"b","v":0.33},{"g":"b","v":0.34},{"g":"b","v":0.34},{"g":"b","v":0.34},{"g":"b","v":0.35},{"g":"b","v":0.35},{"g":"b","v":0.36},{"g":"b","v":0.36},{"g":"b","v":0.37},{"g":"b","v":0.37},{"g":"b","v":0.38},{"g":"b","v":0.38},{"g":"b","v":0.39},{"g":"b","v":0.4},{"g":"b","v":0.41},{"g":"b","v":0.42},{"g":"b","v":0.43},{"g":"b","v":0.44},{"g":"b","v":0.45},{"g":"b","v":0.46},{"g":"b","v":0.47},{"g":"b","v":0.48},{"g":"b","v":0.5},{"g":"b","v":0.52},{"g":"b","v":0.55},{"g":"b","v":0.58},{"g":"b","v":0.6},{"g":"b","v":0.62},{"g":"b","v":0.65},{"g":"b","v":0.68},{"g":"b","v":0.72},
{"g":"c","v":0.01},{"g":"c","v":0.02},{"g":"c","v":0.03},{"g":"c","v":0.04},{"g":"c","v":0.05},{"g":"c","v":0.06},{"g":"c","v":0.06},{"g":"c","v":0.07},{"g":"c","v":0.07},{"g":"c","v":0.08},{"g":"c","v":0.08},{"g":"c","v":0.09},{"g":"c","v":0.09},{"g":"c","v":0.09},{"g":"c","v":0.1},{"g":"c","v":0.1},{"g":"c","v":0.1},{"g":"c","v":0.11},{"g":"c","v":0.11},{"g":"c","v":0.11},{"g":"c","v":0.11},{"g":"c","v":0.12},{"g":"c","v":0.12},{"g":"c","v":0.12},{"g":"c","v":0.12},{"g":"c","v":0.13},{"g":"c","v":0.13},{"g":"c","v":0.13},{"g":"c","v":0.14},{"g":"c","v":0.14},{"g":"c","v":0.14},{"g":"c","v":0.15},{"g":"c","v":0.15},{"g":"c","v":0.16},{"g":"c","v":0.17},{"g":"c","v":0.18},{"g":"c","v":0.19},{"g":"c","v":0.2},{"g":"c","v":0.21},{"g":"c","v":0.22},{"g":"c","v":0.24},{"g":"c","v":0.26},{"g":"c","v":0.28},{"g":"c","v":0.3},{"g":"c","v":0.31}
],
"G":[
{"k":"1M","c":"T","v":0.18},{"k":"1M","c":"T","v":0.26},{"k":"1M","c":"T","v":0.38},{"k":"1M","c":"T","v":0.42},{"k":"1M","c":"T","v":0.45},{"k":"1M","c":"T","v":0.48},{"k":"1M","c":"T","v":0.5},{"k":"1M","c":"T","v":0.52},{"k":"1M","c":"T","v":0.54},{"k":"1M","c":"T","v":0.56},{"k":"1M","c":"T","v":0.58},{"k":"1M","c":"T","v":0.6},{"k":"1M","c":"T","v":0.61},{"k":"1M","c":"T","v":0.62},{"k":"1M","c":"T","v":0.64},{"k":"1M","c":"T","v":0.66},{"k":"1M","c":"T","v":0.68},{"k":"1M","c":"T","v":0.7},{"k":"1M","c":"T","v":0.72},{"k":"1M","c":"T","v":0.75},{"k":"1M","c":"T","v":0.78},{"k":"1M","c":"T","v":0.8},{"k":"1M","c":"T","v":0.81},{"k":"1M","c":"T","v":0.91},
{"k":"1M","c":"N","v":0.16},{"k":"1M","c":"N","v":0.3},{"k":"1M","c":"N","v":0.32},{"k":"1M","c":"N","v":0.36},{"k":"1M","c":"N","v":0.42},{"k":"1M","c":"N","v":0.45},{"k":"1M","c":"N","v":0.48},{"k":"1M","c":"N","v":0.52},{"k":"1M","c":"N","v":0.56},{"k":"1M","c":"N","v":0.6},{"k":"1M","c":"N","v":0.62},{"k":"1M","c":"N","v":0.64},{"k":"1M","c":"N","v":0.66},{"k":"1M","c":"N","v":0.7},{"k":"1M","c":"N","v":0.74},{"k":"1M","c":"N","v":0.77},{"k":"1M","c":"N","v":0.78},{"k":"1M","c":"N","v":0.8},{"k":"1M","c":"N","v":0.82},{"k":"1M","c":"N","v":0.85},{"k":"1M","c":"N","v":0.88},{"k":"1M","c":"N","v":0.9},{"k":"1M","c":"N","v":0.91},{"k":"1M","c":"N","v":1.2},
{"k":"1CB","c":"T","v":0.28},{"k":"1CB","c":"T","v":0.31},{"k":"1CB","c":"T","v":0.38},{"k":"1CB","c":"T","v":0.42},{"k":"1CB","c":"T","v":0.45},{"k":"1CB","c":"T","v":0.5},{"k":"1CB","c":"T","v":0.55},{"k":"1CB","c":"T","v":0.6},{"k":"1CB","c":"T","v":0.64},{"k":"1CB","c":"T","v":0.67},{"k":"1CB","c":"T","v":0.69},{"k":"1CB","c":"T","v":0.7},{"k":"1CB","c":"T","v":0.72},{"k":"1CB","c":"T","v":0.73},{"k":"1CB","c":"T","v":0.75},{"k":"1CB","c":"T","v":0.76},{"k":"1CB","c":"T","v":0.78},{"k":"1CB","c":"T","v":0.8},{"k":"1CB","c":"T","v":0.82},{"k":"1CB","c":"T","v":0.84},{"k":"1CB","c":"T","v":0.86},{"k":"1CB","c":"T","v":0.88},{"k":"1CB","c":"T","v":0.91},{"k":"1CB","c":"T","v":1.0},
{"k":"1CB","c":"N","v":0.25},{"k":"1CB","c":"N","v":0.44},{"k":"1CB","c":"N","v":0.48},{"k":"1CB","c":"N","v":0.52},{"k":"1CB","c":"N","v":0.56},{"k":"1CB","c":"N","v":0.6},{"k":"1CB","c":"N","v":0.63},{"k":"1CB","c":"N","v":0.66},{"k":"1CB","c":"N","v":0.68},{"k":"1CB","c":"N","v":0.7},{"k":"1CB","c":"N","v":0.71},{"k":"1CB","c":"N","v":0.72},{"k":"1CB","c":"N","v":0.73},{"k":"1CB","c":"N","v":0.74},{"k":"1CB","c":"N","v":0.76},{"k":"1CB","c":"N","v":0.78},{"k":"1CB","c":"N","v":0.8},{"k":"1CB","c":"N","v":0.82},{"k":"1CB","c":"N","v":0.84},{"k":"1CB","c":"N","v":0.86},{"k":"1CB","c":"N","v":0.88},{"k":"1CB","c":"N","v":0.91},{"k":"1CB","c":"N","v":0.94},{"k":"1CB","c":"N","v":1.0},
{"k":"2M","c":"T","v":0.19},{"k":"2M","c":"T","v":0.2},{"k":"2M","c":"T","v":0.22},{"k":"2M","c":"T","v":0.23},{"k":"2M","c":"T","v":0.24},{"k":"2M","c":"T","v":0.25},{"k":"2M","c":"T","v":0.26},{"k":"2M","c":"T","v":0.27},{"k":"2M","c":"T","v":0.28},{"k":"2M","c":"T","v":0.29},{"k":"2M","c":"T","v":0.3},{"k":"2M","c":"T","v":0.31},{"k":"2M","c":"T","v":0.32},{"k":"2M","c":"T","v":0.33},{"k":"2M","c":"T","v":0.34},{"k":"2M","c":"T","v":0.35},{"k":"2M","c":"T","v":0.36},{"k":"2M","c":"T","v":0.38},{"k":"2M","c":"T","v":0.4},{"k":"2M","c":"T","v":0.42},{"k":"2M","c":"T","v":0.44},{"k":"2M","c":"T","v":0.48},{"k":"2M","c":"T","v":0.52},{"k":"2M","c":"T","v":0.55},
{"k":"2M","c":"N","v":0.2},{"k":"2M","c":"N","v":0.22},{"k":"2M","c":"N","v":0.25},{"k":"2M","c":"N","v":0.27},{"k":"2M","c":"N","v":0.3},{"k":"2M","c":"N","v":0.32},{"k":"2M","c":"N","v":0.34},{"k":"2M","c":"N","v":0.35},{"k":"2M","c":"N","v":0.36},{"k":"2M","c":"N","v":0.38},{"k":"2M","c":"N","v":0.39},{"k":"2M","c":"N","v":0.4},{"k":"2M","c":"N","v":0.4},{"k":"2M","c":"N","v":0.42},{"k":"2M","c":"N","v":0.44},{"k":"2M","c":"N","v":0.46},{"k":"2M","c":"N","v":0.48},{"k":"2M","c":"N","v":0.5},{"k":"2M","c":"N","v":0.52},{"k":"2M","c":"N","v":0.55},{"k":"2M","c":"N","v":0.58},{"k":"2M","c":"N","v":0.62},{"k":"2M","c":"N","v":0.65},{"k":"2M","c":"N","v":0.72},
{"k":"2CB","c":"T","v":0.31},{"k":"2CB","c":"T","v":0.33},{"k":"2CB","c":"T","v":0.35},{"k":"2CB","c":"T","v":0.36},{"k":"2CB","c":"T","v":0.38},{"k":"2CB","c":"T","v":0.39},{"k":"2CB","c":"T","v":0.4},{"k":"2CB","c":"T","v":0.41},{"k":"2CB","c":"T","v":0.42},{"k":"2CB","c":"T","v":0.43},{"k":"2CB","c":"T","v":0.44},{"k":"2CB","c":"T","v":0.44},{"k":"2CB","c":"T","v":0.45},{"k":"2CB","c":"T","v":0.45},{"k":"2CB","c":"T","v":0.46},{"k":"2CB","c":"T","v":0.47},{"k":"2CB","c":"T","v":0.48},{"k":"2CB","c":"T","v":0.49},{"k":"2CB","c":"T","v":0.5},{"k":"2CB","c":"T","v":0.51},{"k":"2CB","c":"T","v":0.52},{"k":"2CB","c":"T","v":0.54},{"k":"2CB","c":"T","v":0.55},{"k":"2CB","c":"T","v":0.56},
{"k":"2CB","c":"N","v":0.34},{"k":"2CB","c":"N","v":0.36},{"k":"2CB","c":"N","v":0.38},{"k":"2CB","c":"N","v":0.4},{"k":"2CB","c":"N","v":0.41},{"k":"2CB","c":"N","v":0.42},{"k":"2CB","c":"N","v":0.43},{"k":"2CB","c":"N","v":0.44},{"k":"2CB","c":"N","v":0.45},{"k":"2CB","c":"N","v":0.46},{"k":"2CB","c":"N","v":0.46},{"k":"2CB","c":"N","v":0.47},{"k":"2CB","c":"N","v":0.47},{"k":"2CB","c":"N","v":0.48},{"k":"2CB","c":"N","v":0.49},{"k":"2CB","c":"N","v":0.5},{"k":"2CB","c":"N","v":0.52},{"k":"2CB","c":"N","v":0.54},{"k":"2CB","c":"N","v":0.56},{"k":"2CB","c":"N","v":0.58},{"k":"2CB","c":"N","v":0.62},{"k":"2CB","c":"N","v":0.66},{"k":"2CB","c":"N","v":0.7},{"k":"2CB","c":"N","v":0.72},
{"k":"3M","c":"T","v":0.02},{"k":"3M","c":"T","v":0.03},{"k":"3M","c":"T","v":0.05},{"k":"3M","c":"T","v":0.06},{"k":"3M","c":"T","v":0.07},{"k":"3M","c":"T","v":0.08},{"k":"3M","c":"T","v":0.08},{"k":"3M","c":"T","v":0.09},{"k":"3M","c":"T","v":0.1},{"k":"3M","c":"T","v":0.1},{"k":"3M","c":"T","v":0.11},{"k":"3M","c":"T","v":0.11},{"k":"3M","c":"T","v":0.11},{"k":"3M","c":"T","v":0.12},{"k":"3M","c":"T","v":0.12},{"k":"3M","c":"T","v":0.13},{"k":"3M","c":"T","v":0.14},{"k":"3M","c":"T","v":0.15},{"k":"3M","c":"T","v":0.16},{"k":"3M","c":"T","v":0.18},{"k":"3M","c":"T","v":0.19},{"k":"3M","c":"T","v":0.21},{"k":"3M","c":"T","v":0.23},{"k":"3M","c":"T","v":0.24},
{"k":"3M","c":"N","v":0.05},{"k":"3M","c":"N","v":0.06},{"k":"3M","c":"N","v":0.07},{"k":"3M","c":"N","v":0.08},{"k":"3M","c":"N","v":0.09},{"k":"3M","c":"N","v":0.1},{"k":"3M","c":"N","v":0.1},{"k":"3M","c":"N","v":0.11},{"k":"3M","c":"N","v":0.11},{"k":"3M","c":"N","v":0.12},{"k":"3M","c":"N","v":0.12},{"k":"3M","c":"N","v":0.12},{"k":"3M","c":"N","v":0.13},{"k":"3M","c":"N","v":0.13},{"k":"3M","c":"N","v":0.14},{"k":"3M","c":"N","v":0.15},{"k":"3M","c":"N","v":0.16},{"k":"3M","c":"N","v":0.18},{"k":"3M","c":"N","v":0.2},{"k":"3M","c":"N","v":0.22},{"k":"3M","c":"N","v":0.24},{"k":"3M","c":"N","v":0.26},{"k":"3M","c":"N","v":0.28},{"k":"3M","c":"N","v":0.3},
{"k":"3CB","c":"T","v":0.07},{"k":"3CB","c":"T","v":0.08},{"k":"3CB","c":"T","v":0.09},{"k":"3CB","c":"T","v":0.1},{"k":"3CB","c":"T","v":0.11},{"k":"3CB","c":"T","v":0.12},{"k":"3CB","c":"T","v":0.13},{"k":"3CB","c":"T","v":0.14},{"k":"3CB","c":"T","v":0.15},{"k":"3CB","c":"T","v":0.15},{"k":"3CB","c":"T","v":0.16},{"k":"3CB","c":"T","v":0.16},{"k":"3CB","c":"T","v":0.16},{"k":"3CB","c":"T","v":0.17},{"k":"3CB","c":"T","v":0.18},{"k":"3CB","c":"T","v":0.19},{"k":"3CB","c":"T","v":0.2},{"k":"3CB","c":"T","v":0.21},{"k":"3CB","c":"T","v":0.22},{"k":"3CB","c":"T","v":0.24},{"k":"3CB","c":"T","v":0.26},{"k":"3CB","c":"T","v":0.28},{"k":"3CB","c":"T","v":0.3},{"k":"3CB","c":"T","v":0.38},
{"k":"3CB","c":"N","v":0.06},{"k":"3CB","c":"N","v":0.08},{"k":"3CB","c":"N","v":0.09},{"k":"3CB","c":"N","v":0.1},{"k":"3CB","c":"N","v":0.12},{"k":"3CB","c":"N","v":0.13},{"k":"3CB","c":"N","v":0.14},{"k":"3CB","c":"N","v":0.15},{"k":"3CB","c":"N","v":0.16},{"k":"3CB","c":"N","v":0.17},{"k":"3CB","c":"N","v":0.17},{"k":"3CB","c":"N","v":0.17},{"k":"3CB","c":"N","v":0.18},{"k":"3CB","c":"N","v":0.18},{"k":"3CB","c":"N","v":0.19},{"k":"3CB","c":"N","v":0.2},{"k":"3CB","c":"N","v":0.21},{"k":"3CB","c":"N","v":0.22},{"k":"3CB","c":"N","v":0.24},{"k":"3CB","c":"N","v":0.26},{"k":"3CB","c":"N","v":0.28},{"k":"3CB","c":"N","v":0.3},{"k":"3CB","c":"N","v":0.32},{"k":"3CB","c":"N","v":0.42}
],
"sigE":[{"k":"1M","v":83,"s":"***"},{"k":"1CB","v":83.5,"s":"**"},{"k":"2M","v":68,"s":"***"},{"k":"2CB","v":68,"s":"*"},{"k":"3M","v":54.7,"s":"***"},{"k":"3CB","v":55,"s":"**"},{"k":"4M","v":33.4,"s":"**"},{"k":"4CB","v":33.4,"s":"*"}],
"sigG":[{"k":"2M","v":0.876,"s":"**"},{"k":"2CB","v":0.876,"s":"**"}],
"brE":[{"m":"1M","cb":"1CB","lab":"No block"},{"m":"2M","cb":"2CB","lab":"FcγRI block"},{"m":"3M","cb":"3CB","lab":"FcγRII block"},{"m":"4M","cb":"4CB","lab":"FcγRI/FcγRII block"}],
"brG":[{"m":"1M","cb":"1CB","lab":"FcγRI block"},{"m":"2M","cb":"2CB","lab":"FcγRII block"},{"m":"3M","cb":"3CB","lab":"FcγRI/FcγRII block"}],
"leg":[{"r":"r1","c":"T","lab":"HCMV transmitting"},{"r":"r2","c":"N","lab":"HCMV non-transmitting"},{"r":"r3","key":"M","lab":"=\u00a0\u00a0Maternal sera"},{"r":"r4","key":"CB","lab":"=\u00a0\u00a0Cord blood sera"}]
},
"vconcat":[
{"hconcat":[
 {"width":1,"height":1,"data":{"values":[{}]},"mark":{"type":"point","size":0,"opacity":0},"encoding":{}},
 {"hconcat":[
  {"hconcat":[
   {"title":{"text":"A","anchor":"start","frame":"bounds","fontSize":17,"fontWeight":"bold","dx":-13,"offset":-15},
    "vconcat":[{"width":160,"height":235,"view":{"stroke":"#9a9a9a","strokeWidth":1},
     "title":{"text":"THP1 monocytes","fontSize":12.5,"offset":8},
     "encoding":{"x":{"field":"t","type":"quantitative","scale":{"domain":[-0.8,3.3],"nice":false,"zero":false},"axis":{"values":[0,1,2,3],"labelExpr":"datum.value==0?'0':datum.value==1?'10³':datum.value==2?'10⁴':'10⁵'","domain":false,"tickSize":5,"tickWidth":1,"labelFontSize":11,"labelPadding":4,"title":"PE-A","titleFontSize":11.5,"titlePadding":8}}},
     "layer":[
      {"data":{"name":"hA"},"transform":[{"filter":"datum.s=='u'"}],"layer":[
        {"mark":{"type":"area","interpolate":"monotone","fill":"#ff6464","fillOpacity":0.9,"line":{"color":"#ff2a2a","strokeWidth":1}},"encoding":{"y":{"field":"h","type":"quantitative","scale":{"domain":[-188,47],"nice":false,"zero":false},"axis":null}}},
        {"transform":[{"aggregate":[{"op":"max","field":"t","as":"t"}]}],"mark":{"type":"text","align":"right","baseline":"alphabetic","dx":-6,"dy":-4,"fontSize":10.5,"color":"#222"},"encoding":{"y":{"datum":0},"text":{"value":"unstained"}}}]},
      {"data":{"name":"hA"},"transform":[{"filter":"datum.s=='i'"}],"layer":[
        {"mark":{"type":"area","interpolate":"monotone","fill":"#ff9a55","fillOpacity":0.9,"line":{"color":"#ff7d2a","strokeWidth":1}},"encoding":{"y":{"field":"h","type":"quantitative","scale":{"domain":[-141,94],"nice":false,"zero":false},"axis":null}}},
        {"transform":[{"aggregate":[{"op":"max","field":"t","as":"t"}]}],"mark":{"type":"text","align":"right","baseline":"alphabetic","dx":-6,"dy":-6,"fontSize":10.5,"color":"#222"},"encoding":{"y":{"datum":0},"text":{"value":"isotype ctrl"}}}]},
      {"data":{"name":"hA"},"transform":[{"filter":"datum.s=='c64'"}],"layer":[
        {"mark":{"type":"area","interpolate":"monotone","fill":"#c4f59c","fillOpacity":0.95,"line":{"color":"#86e440","strokeWidth":1}},"encoding":{"y":{"field":"h","type":"quantitative","scale":{"domain":[-94,141],"nice":false,"zero":false},"axis":null}}},
        {"transform":[{"aggregate":[{"op":"max","field":"t","as":"t"}]}],"mark":{"type":"text","align":"right","baseline":"alphabetic","dx":-6,"dy":-6,"fontSize":10.5,"color":"#222"},"encoding":{"y":{"datum":0},"text":{"value":"FcγRI/CD64"}}}]},
      {"data":{"name":"hA"},"transform":[{"filter":"datum.s=='c32'"}],"layer":[
        {"mark":{"type":"area","interpolate":"monotone","fill":"#a6eaea","fillOpacity":0.95,"line":{"color":"#3fd0d6","strokeWidth":1}},"encoding":{"y":{"field":"h","type":"quantitative","scale":{"domain":[-47,188],"nice":false,"zero":false},"axis":null}}},
        {"transform":[{"aggregate":[{"op":"max","field":"t","as":"t"}]}],"mark":{"type":"text","align":"right","baseline":"alphabetic","dx":-6,"dy":-6,"fontSize":10.5,"color":"#222"},"encoding":{"y":{"datum":0},"text":{"value":"FcγRII/CD32"}}}]},
      {"data":{"name":"hA"},"transform":[{"filter":"datum.s=='c16'"}],"layer":[
        {"mark":{"type":"area","interpolate":"monotone","fill":"#b273f2","fillOpacity":0.95,"line":{"color":"#9440e6","strokeWidth":1}},"encoding":{"y":{"field":"h","type":"quantitative","scale":{"domain":[0,235],"nice":false,"zero":false},"axis":null}}},
        {"transform":[{"aggregate":[{"op":"max","field":"t","as":"t"}]}],"mark":{"type":"text","align":"right","baseline":"alphabetic","dx":-6,"dy":-6,"fontSize":10.5,"color":"#222"},"encoding":{"y":{"datum":0},"text":{"value":"FcγRIIIA/CD16"}}},
        {"data":{"name":"tA"},"mark":{"type":"tick","orient":"vertical","size":3,"thickness":1,"color":"#000","yOffset":1.5},"encoding":{"y":{"datum":0}}}]}
     ],
     "resolve":{"scale":{"y":"independent"}}}]},
   {"title":{"text":"B","anchor":"start","frame":"bounds","fontSize":17,"fontWeight":"bold","dx":-16,"offset":-15},
    "vconcat":[{"width":161,"height":234,"view":{"stroke":"#9a9a9a","strokeWidth":1},
     "title":{"text":"ADCP — cytogam","fontSize":12.5,"offset":8},
     "encoding":{"x":{"field":"t","type":"quantitative","scale":{"domain":[-0.68,3.4],"nice":false,"zero":false},"axis":{"values":[0,1.215,2.23,3.22],"labelExpr":"datum.value==0?'0':datum.value<2?'10³':datum.value<3?'10⁴':'10⁵'","domain":false,"tickSize":5,"tickWidth":1,"labelFontSize":11,"labelPadding":4,"title":"Alexa Fluor 647-A","titleFontSize":11.5,"titlePadding":8}}},
     "layer":[
      {"data":{"name":"hB"},"transform":[{"filter":"datum.s=='r12'"}],"layer":[
        {"mark":{"type":"area","interpolate":"linear","fill":"#a8f3f8","fillOpacity":0.95,"line":{"color":"#3de6ef","strokeWidth":1}},"encoding":{"y":{"field":"h","type":"quantitative","scale":{"domain":[-139,95],"nice":false,"zero":false},"axis":null}}},
        {"transform":[{"aggregate":[{"op":"max","field":"t","as":"t"}]}],"mark":{"type":"text","align":"right","baseline":"alphabetic","dx":-5,"dy":-8,"fontSize":11,"color":"#222"},"encoding":{"y":{"datum":0},"text":{"value":"FcγRI/FcγRII block"}}}]},
      {"data":{"name":"hB"},"transform":[{"filter":"datum.s=='r2'"}],"layer":[
        {"mark":{"type":"area","interpolate":"linear","fill":"#3a6cd8","fillOpacity":0.55,"line":{"color":"#2f62d0","strokeWidth":1}},"encoding":{"y":{"field":"h","type":"quantitative","scale":{"domain":[-92,142],"nice":false,"zero":false},"axis":null}}},
        {"transform":[{"aggregate":[{"op":"max","field":"t","as":"t"}]}],"mark":{"type":"text","align":"right","baseline":"alphabetic","dx":-5,"dy":-6,"fontSize":11,"color":"#222"},"encoding":{"y":{"datum":0},"text":{"value":"FcγRII block"}}}]},
      {"data":{"name":"hB"},"transform":[{"filter":"datum.s=='r1'"}],"layer":[
        {"mark":{"type":"area","interpolate":"linear","fill":"#48e048","fillOpacity":0.5,"line":{"color":"#22dd22","strokeWidth":1}},"encoding":{"y":{"field":"h","type":"quantitative","scale":{"domain":[-45,189],"nice":false,"zero":false},"axis":null}}},
        {"transform":[{"aggregate":[{"op":"max","field":"t","as":"t"}]}],"mark":{"type":"text","align":"right","baseline":"alphabetic","dx":-5,"dy":-6,"fontSize":11,"color":"#222"},"encoding":{"y":{"datum":0},"text":{"value":"FcγRI block"}}}]},
      {"data":{"name":"hB"},"transform":[{"filter":"datum.s=='n'"}],"layer":[
        {"mark":{"type":"area","interpolate":"linear","fill":"#2626a8","fillOpacity":0.58,"line":{"color":"#12128a","strokeWidth":1}},"encoding":{"y":{"field":"h","type":"quantitative","scale":{"domain":[0,234],"nice":false,"zero":false},"axis":null}}},
        {"transform":[{"aggregate":[{"op":"max","field":"t","as":"t"}]}],"mark":{"type":"text","align":"right","baseline":"alphabetic","dx":-5,"dy":-6,"fontSize":11,"color":"#222"},"encoding":{"y":{"datum":0},"text":{"value":"no block"}}},
        {"data":{"name":"tB"},"mark":{"type":"tick","orient":"vertical","size":3,"thickness":1,"color":"#000","yOffset":1.5},"encoding":{"y":{"datum":0}}}]}
     ],
     "resolve":{"scale":{"y":"independent"}}}]}
  ],"spacing":18},
  {"title":{"text":"C","anchor":"start","frame":"bounds","fontSize":17,"fontWeight":"bold","offset":2},
   "spacing":6,
   "vconcat":[
    {"width":150,"height":30,"data":{"name":"Cleg"},
     "encoding":{"x":{"field":"c","type":"nominal","scale":{"type":"point","domain":["a","b"],"range":[9,136],"padding":0},"axis":null},
      "y":{"field":"r","type":"nominal","scale":{"type":"point","domain":["r1","r2"],"range":[5,22],"padding":0},"axis":null},
      "color":{"field":"s","type":"nominal","scale":{"domain":["No FcγR block","FcγRII block","FcγRI block","FcγRI/FcγRI block"],"range":["#15157a","#1f1fe0","#5ee65e","#6ef0ff"]},"legend":null},
      "shape":{"field":"s","type":"nominal","scale":{"domain":["No FcγR block","FcγRII block","FcγRI block","FcγRI/FcγRI block"],"range":["diamond","circle","square","triangle-down"]},"legend":null}},
     "layer":[
      {"mark":{"type":"tick","orient":"horizontal","size":22,"thickness":2}},
      {"mark":{"type":"point","filled":true,"opacity":1,"size":70}},
      {"mark":{"type":"text","align":"left","dx":18,"fontSize":12.5},"encoding":{"text":{"field":"s"},"color":{"value":"#000"}}}]},
    {"width":245,"height":174,"data":{"name":"C"},
     "encoding":{
      "x":{"field":"x","type":"quantitative","scale":{"domain":[0.7,6],"nice":false,"zero":false},"axis":{"values":[1,2,3,4,5,6],"title":"log₁₀ dilution — cytogam","labelFontSize":12,"titleFontSize":12.5,"labelPadding":3,"titlePadding":5}},
      "y":{"field":"y","type":"quantitative","scale":{"domain":[0,100]},"axis":{"values":[0,20,40,60,80,100],"title":"Phagocytosis — AF647⁺ (%)","titlePadding":3}},
      "color":{"field":"s","type":"nominal","scale":{"domain":["No FcγR block","FcγRII block","FcγRI block","FcγRI/FcγRI block"],"range":["#15157a","#1f1fe0","#5ee65e","#6ef0ff"]},"legend":null},
      "shape":{"field":"s","type":"nominal","scale":{"domain":["No FcγR block","FcγRII block","FcγRI block","FcγRI/FcγRI block"],"range":["diamond","circle","square","triangle-down"]},"legend":null}},
     "layer":[{"mark":{"type":"line","strokeWidth":2}},{"mark":{"type":"point","filled":true,"opacity":1,"size":60}}]}
   ]}
 ],"spacing":18}
],"spacing":0},
{"hconcat":[
 {"width":1,"height":1,"data":{"values":[{}]},"mark":{"type":"point","size":0,"opacity":0},"encoding":{}},
 {"hconcat":[
 {"title":{"text":"D","anchor":"start","frame":"bounds","fontSize":17,"fontWeight":"bold","offset":-15},
  "vconcat":[{"width":152,"height":168,"title":{"text":"ADCP +/- FcγR blocking","fontSize":12.3},
   "encoding":{"y":{"field":"v","type":"quantitative","scale":{"domain":[0,100]},"axis":{"values":[0,20,40,60,80,100],"title":"Phagocytosis — AF647⁺ (%)","titleFontSize":12,"titlePadding":10,"labelOverlap":false}}},
   "layer":[
    {"data":{"name":"D"},"transform":[{"calculate":"floor(datum.v/3)","as":"vb"},{"window":[{"op":"row_number","as":"r"}],"groupby":["g","vb"]},{"calculate":"(datum.r%2==0?-1:1)*floor(datum.r/2)*4.5","as":"dx"}],
     "mark":{"type":"point","filled":true,"opacity":1,"size":30},
     "encoding":{
      "x":{"field":"g","type":"nominal","scale":{"type":"band","domain":["a","b","c","d"],"paddingInner":0,"paddingOuter":0.111,"align":1},"axis":{"title":null,"labelExpr":"datum.value=='a'?'No block':datum.value=='b'?'FcγRI':datum.value=='c'?'FcγRII':'FcγRI/FcγRII'","labelAngle":-45,"labelFontSize":11.5,"labelPadding":4}},
      "xOffset":{"field":"dx","type":"quantitative","scale":{"domain":[-18,18]}},
      "color":{"field":"g","type":"nominal","scale":{"domain":["a","b","c","d"],"range":["#0e0e7a","#72e872","#1717e8","#66f0f8"]},"legend":null},
      "shape":{"field":"g","type":"nominal","scale":{"domain":["a","b","c","d"],"range":["diamond","square","circle","triangle-down"]},"legend":null}}},
    {"data":{"name":"D"},"transform":[{"aggregate":[{"op":"median","field":"v","as":"v"}],"groupby":["g"]}],
     "mark":{"type":"tick","color":"#000","thickness":2,"size":28},
     "encoding":{"x":{"field":"g","type":"nominal"}}}
   ]}]},
 {"title":{"text":"E","anchor":"start","frame":"bounds","fontSize":17,"fontWeight":"bold","dx":-9,"offset":-15},
  "spacing":3,
  "vconcat":[
   {"width":380,"height":168,"title":{"text":"ADCP +/- FcγR blocking","fontSize":12.3},
    "encoding":{"y":{"field":"v","type":"quantitative","scale":{"domain":[0,100]},"axis":{"values":[0,20,40,60,80,100],"title":"Phagocytosis score","titleFontSize":12,"titlePadding":3,"labelOverlap":false}}},
    "layer":[
     {"data":{"name":"E"},"transform":[{"calculate":"floor(datum.v/2.5)","as":"vb"},{"window":[{"op":"row_number","as":"r"}],"groupby":["k","c","vb"]},{"calculate":"(datum.c=='T'?-9:9)+(datum.r%2==0?-1:1)*floor(datum.r/2)*2.8","as":"dx"}],
      "mark":{"type":"point","filled":true,"opacity":1,"size":22},
      "encoding":{
       "x":{"field":"k","type":"nominal","scale":{"type":"band","domain":["1M","1CB","2M","2CB","3M","3CB","4M","4CB"],"paddingInner":0,"paddingOuter":0},"axis":{"title":null,"labelExpr":"indexof(datum.value,'CB')>=0?'CB':'M'","labelAngle":0,"labelFontSize":12,"labelPadding":4}},
       "xOffset":{"field":"dx","type":"quantitative","scale":{"domain":[-23.75,23.75]}},
       "color":{"field":"c","type":"nominal","scale":{"domain":["T","N"],"range":["#f21a1a","#1f8bf2"]},"legend":null},
       "shape":{"field":"c","type":"nominal","scale":{"domain":["T","N"],"range":["circle","diamond"]},"legend":null}}},
     {"data":{"name":"E"},"transform":[{"aggregate":[{"op":"median","field":"v","as":"v"}],"groupby":["k","c"]},{"calculate":"datum.c=='T'?-9:9","as":"dx"}],
      "mark":{"type":"tick","color":"#000","thickness":2,"size":12},
      "encoding":{"x":{"field":"k","type":"nominal"},"xOffset":{"field":"dx","type":"quantitative"}}},
     {"data":{"name":"sigE"},"mark":{"type":"tick","color":"#000","thickness":2,"size":21},
      "encoding":{"x":{"field":"k","type":"nominal"},"xOffset":{"datum":3}}},
     {"data":{"name":"sigE"},"mark":{"type":"text","fontSize":15,"baseline":"alphabetic","dy":1,"color":"#000"},
      "encoding":{"x":{"field":"k","type":"nominal"},"xOffset":{"datum":3},"text":{"field":"s"}}}
    ]},
   {"width":380,"height":32,"data":{"name":"brE"},
    "layer":[
     {"transform":[{"fold":["m","cb"],"as":["w","key"]}],"mark":{"type":"rule","color":"#000","strokeWidth":1.6},
      "encoding":{"x":{"field":"key","type":"nominal","scale":{"type":"band","domain":["1M","1CB","2M","2CB","3M","3CB","4M","4CB"],"paddingInner":0,"paddingOuter":0},"axis":null},"y":{"datum":1,"type":"quantitative","scale":{"domain":[0,1]},"axis":null},"y2":{"datum":0.625}}},
     {"mark":{"type":"tick","color":"#000","thickness":1.6,"size":47.5},
      "encoding":{"x":{"field":"m","type":"nominal"},"xOffset":{"datum":23.75,"type":"quantitative","scale":{"domain":[-23.75,23.75]}},"y":{"datum":0.625,"type":"quantitative"}}},
     {"mark":{"type":"text","baseline":"top","dy":7,"fontSize":11.5,"color":"#000"},
      "encoding":{"x":{"field":"m","type":"nominal"},"xOffset":{"datum":23.75,"type":"quantitative"},"y":{"datum":0.625,"type":"quantitative"},"text":{"field":"lab"}}}
    ]}
  ]}
 ],"spacing":18,"resolve":{"scale":{"color":"independent","shape":"independent","xOffset":"independent"}}}
],"spacing":0},
{"hconcat":[
 {"width":1,"height":1,"data":{"values":[{}]},"mark":{"type":"point","size":0,"opacity":0},"encoding":{}},
 {"hconcat":[
 {"title":{"text":"F","anchor":"start","frame":"bounds","fontSize":17,"fontWeight":"bold","offset":-15},
  "vconcat":[{"width":126,"height":169,"title":{"text":"FcγR block ratio","fontSize":12.5},
   "encoding":{"y":{"field":"v","type":"quantitative","scale":{"domain":[0,1.2]},"axis":{"values":[0,0.2,0.4,0.6,0.8,1.0,1.2],"format":".1f","title":"FcγR blocked/unblocked","titleFontSize":12,"titlePadding":12,"labelOverlap":false}}},
   "layer":[
    {"data":{"name":"F"},"transform":[{"calculate":"floor(datum.v/0.035)","as":"vb"},{"window":[{"op":"row_number","as":"r"}],"groupby":["g","vb"]},{"calculate":"(datum.r%2==0?-1:1)*floor(datum.r/2)*4.5","as":"dx"}],
     "mark":{"type":"point","filled":true,"opacity":1,"size":28},
     "encoding":{
      "x":{"field":"g","type":"nominal","scale":{"type":"band","domain":["a","b","c"],"paddingInner":0,"paddingOuter":0.13},"axis":{"title":null,"labelExpr":"datum.value=='a'?'FcγRI':datum.value=='b'?'FcγRII':'FcγRI/FcγRII'","labelAngle":-45,"labelFontSize":11.5,"labelPadding":4}},
      "xOffset":{"field":"dx","type":"quantitative","scale":{"domain":[-19.3,19.3]}},
      "color":{"field":"g","type":"nominal","scale":{"domain":["a","b","c"],"range":["#7de87d","#1a1ae0","#66f0f8"]},"legend":null},
      "shape":{"field":"g","type":"nominal","scale":{"domain":["a","b","c"],"range":["square","circle","triangle-down"]},"legend":null}}},
    {"data":{"name":"F"},"transform":[{"aggregate":[{"op":"median","field":"v","as":"v"}],"groupby":["g"]}],
     "mark":{"type":"tick","color":"#000","thickness":2,"size":25},
     "encoding":{"x":{"field":"g","type":"nominal"}}},
    {"data":{"values":[{"v":1}]},"mark":{"type":"rule","color":"#000","strokeWidth":1.3,"strokeDash":[2,2]}}
   ]}]},
 {"hconcat":[
  {"title":{"text":"G","anchor":"start","frame":"bounds","fontSize":17,"fontWeight":"bold","dx":-10,"offset":-15},
   "spacing":3,
   "vconcat":[
    {"width":270,"height":169,"title":{"text":"FcγR block ratio","fontSize":12.5},
     "encoding":{"y":{"field":"v","type":"quantitative","scale":{"domain":[0,1.2]},"axis":{"values":[0,0.2,0.4,0.6,0.8,1.0,1.2],"format":".1f","title":"FcR blocked/unblocked","titleFontSize":12,"titlePadding":4,"labelOverlap":false}}},
     "layer":[
      {"data":{"name":"G"},"transform":[{"calculate":"floor(datum.v/0.03)","as":"vb"},{"window":[{"op":"row_number","as":"r"}],"groupby":["k","c","vb"]},{"calculate":"(datum.c=='T'?-8:8)+(datum.r%2==0?-1:1)*floor(datum.r/2)*2.8","as":"dx"}],
       "mark":{"type":"point","filled":true,"opacity":1,"size":22},
       "encoding":{
        "x":{"field":"k","type":"nominal","scale":{"type":"band","domain":["1M","1CB","2M","2CB","3M","3CB"],"paddingInner":0,"paddingOuter":0},"axis":{"title":null,"labelExpr":"indexof(datum.value,'CB')>=0?'CB':'M'","labelAngle":0,"labelFontSize":12,"labelPadding":4}},
        "xOffset":{"field":"dx","type":"quantitative","scale":{"domain":[-22.5,22.5]}},
        "color":{"field":"c","type":"nominal","scale":{"domain":["T","N"],"range":["#f21a1a","#1f8bf2"]},"legend":null},
        "shape":{"field":"c","type":"nominal","scale":{"domain":["T","N"],"range":["circle","diamond"]},"legend":null}}},
      {"data":{"name":"G"},"transform":[{"aggregate":[{"op":"median","field":"v","as":"v"}],"groupby":["k","c"]},{"calculate":"datum.c=='T'?-8:8","as":"dx"}],
       "mark":{"type":"tick","color":"#000","thickness":2,"size":12},
       "encoding":{"x":{"field":"k","type":"nominal"},"xOffset":{"field":"dx","type":"quantitative"}}},
      {"data":{"name":"sigG"},"mark":{"type":"tick","color":"#000","thickness":2,"size":21},
       "encoding":{"x":{"field":"k","type":"nominal"},"xOffset":{"datum":0}}},
      {"data":{"name":"sigG"},"mark":{"type":"text","fontSize":15,"baseline":"alphabetic","dy":1,"color":"#000"},
       "encoding":{"x":{"field":"k","type":"nominal"},"xOffset":{"datum":0},"text":{"field":"s"}}},
      {"data":{"values":[{"v":1}]},"mark":{"type":"rule","color":"#000","strokeWidth":1.3,"strokeDash":[2,2]}}
     ]},
    {"width":270,"height":32,"data":{"name":"brG"},
     "layer":[
      {"transform":[{"fold":["m","cb"],"as":["w","key"]}],"mark":{"type":"rule","color":"#000","strokeWidth":1.6},
       "encoding":{"x":{"field":"key","type":"nominal","scale":{"type":"band","domain":["1M","1CB","2M","2CB","3M","3CB"],"paddingInner":0,"paddingOuter":0},"axis":null},"y":{"datum":1,"type":"quantitative","scale":{"domain":[0,1]},"axis":null},"y2":{"datum":0.625}}},
      {"mark":{"type":"tick","color":"#000","thickness":1.6,"size":45},
       "encoding":{"x":{"field":"m","type":"nominal"},"xOffset":{"datum":22.5,"type":"quantitative","scale":{"domain":[-22.5,22.5]}},"y":{"datum":0.625,"type":"quantitative"}}},
      {"mark":{"type":"text","baseline":"top","dy":7,"fontSize":11.5,"color":"#000"},
       "encoding":{"x":{"field":"m","type":"nominal"},"xOffset":{"datum":22.5,"type":"quantitative"},"y":{"datum":0.625,"type":"quantitative"},"text":{"field":"lab"}}}
     ]}
   ]},
  {"width":28,"height":74,"data":{"name":"leg"},
   "encoding":{"y":{"field":"r","type":"nominal","scale":{"type":"point","domain":["r1","r2","r3","r4"],"padding":0},"axis":null}},
   "layer":[
    {"transform":[{"filter":"isValid(datum.c)"}],"mark":{"type":"point","filled":true,"opacity":1,"size":60},
     "encoding":{"x":{"datum":"key","type":"nominal","scale":{"type":"point","domain":["key","txt"],"padding":0},"axis":null},
      "color":{"field":"c","type":"nominal","scale":{"domain":["T","N"],"range":["#f21a1a","#1f8bf2"]},"legend":null},
      "shape":{"field":"c","type":"nominal","scale":{"domain":["T","N"],"range":["circle","diamond"]},"legend":null}}},
    {"transform":[{"filter":"isValid(datum.key)"}],"mark":{"type":"text","align":"left","dx":-4,"fontSize":12.5,"color":"#000"},
     "encoding":{"x":{"datum":"key","type":"nominal"},"text":{"field":"key"}}},
    {"mark":{"type":"text","align":"left","fontSize":12.5,"color":"#000"},
     "encoding":{"x":{"datum":"txt","type":"nominal"},"text":{"field":"lab"}}}
   ]}
 ],"spacing":16}
 ],"spacing":42,"resolve":{"scale":{"color":"independent","shape":"independent","xOffset":"independent"}}}
],"spacing":0}
],
"spacing":16,
"resolve":{"scale":{"color":"independent","shape":"independent","xOffset":"independent"}},
"config":{
 "font":"Liberation Sans",
 "view":{"stroke":null},
 "axis":{"domainColor":"#000","domainWidth":1.6,"tickColor":"#000","tickWidth":1.6,"tickSize":5,"labelColor":"#000","labelFontSize":12,"labelFont":"Liberation Sans","titleFont":"Liberation Sans","titleFontSize":12.5,"titleFontWeight":"normal","titleColor":"#000","grid":false,"labelPadding":3,"titlePadding":8,"labelOverlap":false},
 "title":{"font":"Liberation Sans","fontSize":13,"fontWeight":"normal","color":"#000","offset":8},
 "legend":{"labelFont":"Liberation Sans"},
 "text":{"font":"Liberation Sans"}
}
}
